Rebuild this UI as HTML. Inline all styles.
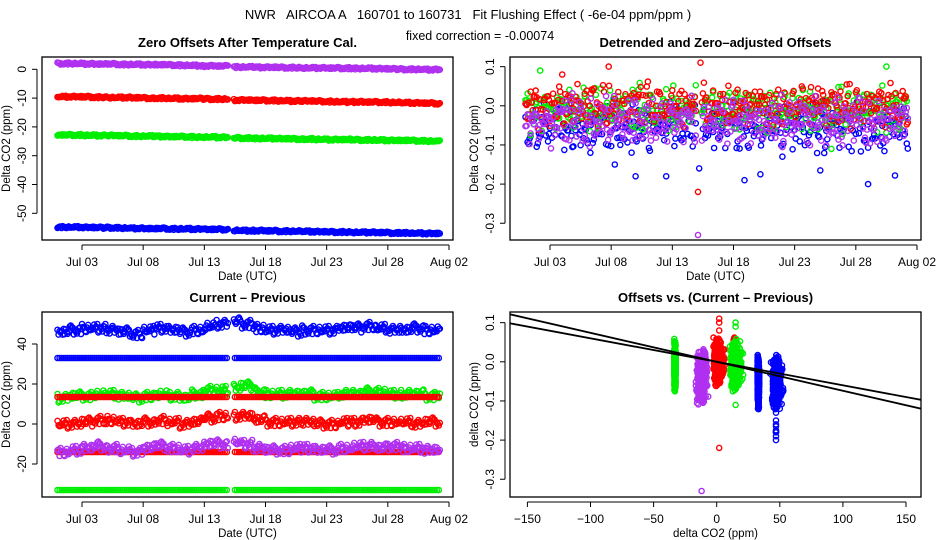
<!DOCTYPE html>
<html><head><meta charset="utf-8"><style>
html,body{margin:0;padding:0;background:#fff;}
svg{display:block;font-family:"Liberation Sans",Arial,sans-serif;}
text{white-space:pre;}
</style></head><body>
<svg id="chart" width="936" height="540" viewBox="0 0 936 540" xmlns="http://www.w3.org/2000/svg">
<text x="468" y="19" text-anchor="middle" font-size="13" xml:space="preserve">NWR   AIRCOA A   160701 to 160731   Fit Flushing Effect ( -6e-04 ppm/ppm )</text>
<text x="480" y="40" text-anchor="middle" font-size="12.5">fixed correction = -0.00074</text>
</svg>
<script>
// ---------- data ----------
const dateTicks = [2,7,12,17,22,27,32];
const dateTickLabels = ["Jul 03","Jul 08","Jul 13","Jul 18","Jul 23","Jul 28","Aug 02"];
const jitter = [0.3,-0.8,0.5,0.1,-0.4,0.9,-0.2,-0.6,0.7,0.0,-1.0,0.4,0.2,-0.3,0.8,-0.7,0.6,-0.1,-0.5,1.0,0.1,-0.9,0.3,-0.4,0.6,-0.2,0.9,-0.6,0.0,0.5,-0.8,0.2,0.7,-0.3,-1.0,0.4,0.1,-0.5,0.8,-0.1,0.3,-0.7,0.6,0.2,-0.4,0.9,-0.9,0.0];
// Panel 1: zero offsets (daily)
const zeroPurple = [2.0,2.0,1.9,1.8,1.8,1.7,1.7,1.6,1.6,1.5,1.4,1.3,1.2,1.1,0.8,0.8,0.7,0.7,0.6,0.6,0.5,0.5,0.4,0.4,0.3,0.3,0.2,0.1,0.0,0.0,-0.1,-0.1];
const zeroRed = [-9.5,-9.5,-9.6,-9.7,-9.8,-9.8,-9.9,-10.0,-10.0,-10.1,-10.2,-10.2,-10.3,-10.3,-10.7,-10.7,-10.8,-10.8,-10.9,-11.0,-11.0,-11.1,-11.2,-11.3,-11.3,-11.4,-11.4,-11.5,-11.6,-11.7,-11.8,-11.9];
const zeroGreen = [-22.8,-22.8,-22.9,-23.0,-23.0,-23.1,-23.2,-23.2,-23.3,-23.4,-23.4,-23.5,-23.5,-23.6,-23.9,-23.9,-24.0,-24.0,-24.1,-24.2,-24.2,-24.3,-24.4,-24.4,-24.5,-24.5,-24.6,-24.7,-24.7,-24.8,-24.9,-25.0];
const zeroBlue = [-54.8,-54.8,-54.9,-55.0,-55.0,-55.1,-55.2,-55.3,-55.3,-55.4,-55.4,-55.5,-55.6,-55.6,-55.9,-56.0,-56.0,-56.1,-56.2,-56.2,-56.3,-56.4,-56.5,-56.5,-56.6,-56.6,-56.7,-56.8,-56.8,-56.9,-57.0,-57.0];
// Panel 3: current - previous (daily)
const cpBlue = [46,47,48,48,47,46,45,47,48,47,46,47,49,50,51,50,48,47,47,46,47,47,47,48,48,49,48,47,47,48,47,47];
const cpGreen = [13,14,14,15,15,14,13,14,15,14,13,15,17,17,18,19,16,15,15,15,15,14,14,15,15,16,16,15,15,15,14,15];
const cpRed = [0,0,1,2,2,1,0,1,2,1,0,1,3,4,4,4,2,1,1,1,1,0,0,1,1,2,1,1,1,0,1,1];
const cpPurple = [-14,-13,-12,-11,-12,-13,-14,-12,-11,-12,-13,-12,-10,-10,-9,-10,-12,-13,-13,-12,-12,-13,-13,-12,-11,-11,-12,-11,-12,-12,-13,-13];
const cpConstBlue = 33, cpConstRed = 13.5, cpConstRed2 = -14, cpConstGreen = -33;
// Panel 2: detrended offsets (base, spread)
const detBase = {blue:-0.055, purple:-0.04, green:-0.01, red:0.0};
const detSpread = {blue:0.04, purple:0.04, green:0.038, red:0.036};
const outlierDays = [14.1,14.1,14.2,14.3,1.2,6.8,9.0,11.5,17.9,21.0,25.0,28.0,29.5,5.3,3.0,7.3,19.2,24.1,30.2];
const outlierVals = [-0.33,-0.22,-0.16,0.11,0.09,0.10,-0.18,-0.18,-0.19,-0.13,-0.11,-0.20,0.10,-0.12,0.08,-0.15,-0.175,-0.165,-0.178];
const outlierCols = ["purple","red","blue","red","green","red","blue","blue","blue","blue","green","blue","green","blue","red","blue","blue","blue","blue"];
// Panel 4 fit lines (slopes)
const fitSlopes = [-0.0006,-0.00074];

const COL = {blue:"#0000ff", red:"#ff0000", green:"#00ee00", purple:"#b030f0"};
const svg = document.getElementById('chart');
const NS = "http://www.w3.org/2000/svg";
function mk(tag, attrs, parent){const e=document.createElementNS(NS,tag);for(const k in attrs)e.setAttribute(k,attrs[k]);(parent||svg).appendChild(e);return e;}

const times=[];
for(let k=0;k<376;k++){const t=k/12;if(t>13.95&&t<14.35)continue;if(t>31.3)break;times.push([t,k]);}
function daily(arr,t){return arr[Math.min(arr.length-1,Math.floor(t))];}
function jit(k,off){return jitter[(k*5+Math.floor(k/48)*13+off)%jitter.length];}

function panel(name,box,sy,yTicks,yLabels,sx,title,ylab,xlab,xTicks,xLabels){
  const g=mk('g',{});
  
  
  const t=mk('text',{x:(box.l+box.r)/2,y:box.t-10,'text-anchor':'middle','font-size':13,'font-weight':'bold'},g);
  t.textContent=title;
  
  
  const pts=mk('g',{fill:'none','stroke-width':1.4},g);
  
  
  const ya=mk('g',{},g);
  
  
  mk('line',{x1:box.l-5,x2:box.l-5,y1:sy(yTicks[0]),y2:sy(yTicks[yTicks.length-1]),stroke:'#000'},ya);
  yTicks.forEach((v,i)=>{const y=sy(v);mk('line',{x1:box.l-10,x2:box.l-5,y1:y,y2:y,stroke:'#000'},ya);
    const tx=mk('text',{x:0,y:0,transform:`translate(${box.l-16},${y}) rotate(-90)`,'text-anchor':'middle','font-size':12},ya);tx.textContent=yLabels[i];
    
    });
  const yl=mk('text',{transform:`translate(${box.l-32},${(box.t+box.b)/2}) rotate(-90)`,'text-anchor':'middle','font-size':11.5},ya);
  yl.textContent=ylab;
  
  
  const xa=mk('g',{},g);
  
  
  mk('line',{x1:sx(xTicks[0]),x2:sx(xTicks[xTicks.length-1]),y1:box.b+5,y2:box.b+5,stroke:'#000'},xa);
  xTicks.forEach((v,i)=>{const x=sx(v);mk('line',{x1:x,x2:x,y1:box.b+5,y2:box.b+10,stroke:'#000'},xa);
    const tx=mk('text',{x:x,y:box.b+26,'text-anchor':'middle','font-size':12},xa);tx.textContent=xLabels[i];
    
    });
  const xl=mk('text',{x:(box.l+box.r)/2,y:box.b+40,'text-anchor':'middle','font-size':11.5},xa);
  xl.textContent=xlab;
  
  
  return {g,pts,sx,sy,box};
}
function frame(p){const r=mk('rect',{x:p.box.l,y:p.box.t,width:p.box.r-p.box.l,height:p.box.b-p.box.t,fill:'none',stroke:'#000','stroke-width':1.3},p.g);
  
  }
function dot(p,x,y,c,r){mk('circle',{cx:x.toFixed(1),cy:y.toFixed(1),r:r||2.6,stroke:COL[c]},p.pts);}

const dayX = d => 82 + (d-2)*12.233;
const dayX2 = d => 550 + (d-2)*12.233;
const detY = ["0.1","0.0","-0.1","-0.2","-0.3"];

// Panel 1
const p1=panel('zero-offsets-panel',{l:42,r:453,t:57,b:240},v=>69.3-v*2.88,[0,-10,-20,-30,-40,-50],["0","-10","-20","-30","-40","-50"],dayX,
 'Zero Offsets After Temperature Cal.','Delta CO2 (ppm)','Date (UTC)',dateTicks,dateTickLabels);
[['blue',zeroBlue,1],['green',zeroGreen,7],['red',zeroRed,13],['purple',zeroPurple,19]].forEach(([c,arr,o])=>{
  times.forEach(([t,k])=>dot(p1,dayX(t),p1.sy(daily(arr,t)+0.35*jit(k,o)),c));});
frame(p1);

// Panel 2
const p2=panel('detrended-offsets-panel',{l:510,r:921,t:57,b:240},v=>105.8-v*391.5,[0.1,0.0,-0.1,-0.2,-0.3],detY,dayX2,
 'Detrended and Zero\u2013adjusted Offsets','Delta CO2 (ppm)','Date (UTC)',dateTicks,dateTickLabels);
function detVal(c,k,o){return detBase[c]+detSpread[c]*(jit(k,o)+0.8*jitter[(k*11+Math.floor(k/30)*7+o+5)%48]);}
[['blue',3],['green',9],['red',17],['purple',29]].forEach(([c,o])=>{times.forEach(([t,k])=>{dot(p2,p2.sx(t),p2.sy(detVal(c,k,o)),c);});});
outlierDays.forEach((d,i)=>dot(p2,p2.sx(d),p2.sy(outlierVals[i]),outlierCols[i]));
frame(p2);

// Panel 3
const p3=panel('current-minus-previous-panel',{l:42,r:453,t:312,b:497},v=>424-v*2.0,[40,20,0,-20],["40","20","0","-20"],dayX,
 'Current \u2013 Previous','Delta CO2 (ppm)','Date (UTC)',dateTicks,dateTickLabels);
const cpSeries=[['blue',cpBlue,2,2.2],['green',cpGreen,5,2.2],['red',cpRed,8,2.2],['red',null,0,cpConstRed2],['purple',cpPurple,11,2.2],
 ['blue',null,0,cpConstBlue],['red',null,0,cpConstRed],['green',null,0,cpConstGreen]];
cpSeries.forEach(([c,arr,o,a])=>{times.forEach(([t,k])=>{
  if(!arr&&k%2)return;
  const v=arr?daily(arr,t)+a*jit(k,o):a;dot(p3,dayX(t),p3.sy(v),c);});});
frame(p3);

// Panel 4
const p4=panel('offsets-vs-difference-panel',{l:510,r:921,t:312,b:497},v=>361.8-v*391.5,[0.1,0.0,-0.1,-0.2,-0.3],detY,v=>716.7+v*1.262,
 'Offsets vs. (Current \u2013 Previous)','delta CO2 (ppm)','delta CO2 (ppm)',[-150,-100,-50,0,50,100,150],["\u2212150","\u2212100","\u221250","0","50","100","150"]);
const t1=mk('text',{x:715,y:331,'text-anchor':'middle','font-size':13},p4.pts);t1.textContent='Prev. Dep. = -6e-04';


const t2=mk('text',{x:715,y:351,'text-anchor':'middle','font-size':13},p4.pts);t2.textContent='S. Err. = 1e-04';


const scat=[['green',null,cpConstGreen,9],['purple',cpPurple,0,29],['red',cpRed,0,17],['red',null,cpConstRed,17],['green',cpGreen,0,9],['blue',null,cpConstBlue,3],['blue',cpBlue,0,3]];
scat.forEach(([c,arr,cv,o],si)=>{times.forEach(([t,k])=>{
  const x=arr?daily(arr,t)+2.5*jit(k,si*3+2):cv+0.6*jit(k,si);
  dot(p4,p4.sx(x),p4.sy(detVal(c,k,o)),c);});});
outlierDays.forEach((d,i)=>{const c=outlierCols[i];const base={blue:47,red:2,green:15,purple:-12}[c];
  dot(p4,p4.sx(base),p4.sy(outlierVals[i]),c);});
const clip=mk('clipPath',{id:'c4'});mk('rect',{x:510,y:312,width:411,height:185},clip);
fitSlopes.forEach(s=>{const l=mk('line',{x1:p4.sx(-170),y1:p4.sy(-170*s),x2:p4.sx(170),y2:p4.sy(170*s),stroke:'#000','stroke-width':1.8,'clip-path':'url(#c4)'},p4.g);
  
  });
frame(p4);
</script>
</body></html>
